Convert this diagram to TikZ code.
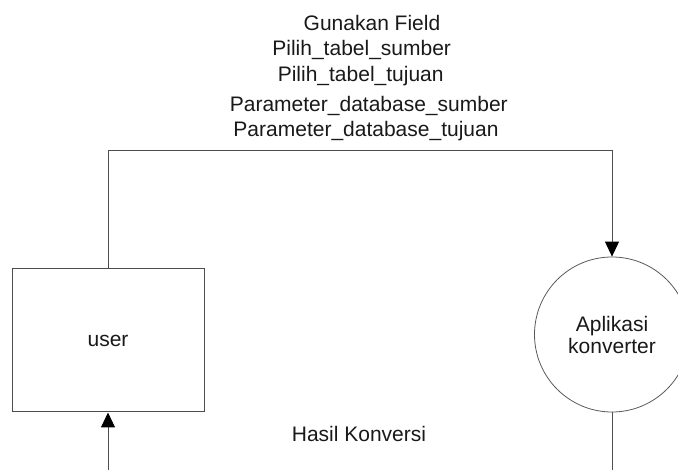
\documentclass[tikz,border=0pt]{standalone}
\usepackage{fontspec}
\setmainfont{Liberation Sans}
\usetikzlibrary{arrows.meta}
\begin{document}
\begin{tikzpicture}[x=1pt,y=-1pt,
  lbl/.style={font=\fontsize{21}{22}\selectfont, text=black!90},
  entity/.style={draw=black!70, line width=1pt, minimum width=192pt, minimum height=143pt, inner sep=0pt, lbl},
  process/.style={circle, draw=black!65, line width=0.8pt, minimum size=155pt, inner sep=0pt, lbl, align=center},
  flow/.style={draw=black!70, line width=1pt, -{Triangle[length=15pt,width=14pt,black]}},
  flowtext/.style={lbl, anchor=base, inner sep=0pt}]
\useasboundingbox (0,0) rectangle (678,470);
\clip (0,0) rectangle (678,470);

% external entity and process
\node[entity] (user) at (108,340.5) {user};
\node[process] (app) at (612,334.5) {Aplikasi\\konverter};

% data flow from user to the converter
\coordinate (bend) at (108,150.3);
\draw[flow] (user.north) -- (bend) -| (app.north);

% data flow from the converter back to user
\draw[flow] (app.south) -- ++(0,90) -| (user.south);

% flow labels
\node[flowtext] (f1) at (372,30.7) {Gunakan Field};
\node[flowtext] (f2) at (361.7,56) {Pilih\_tabel\_sumber};
\node[flowtext] (f3) at (360.7,82) {Pilih\_tabel\_tujuan};
\node[flowtext] (f4) at (368.8,112) {Parameter\_database\_sumber};
\node[flowtext] (f5) at (366,137) {Parameter\_database\_tujuan};
\node[flowtext] (hasil) at (359,442) {Hasil Konversi};
\end{tikzpicture}
\end{document}
